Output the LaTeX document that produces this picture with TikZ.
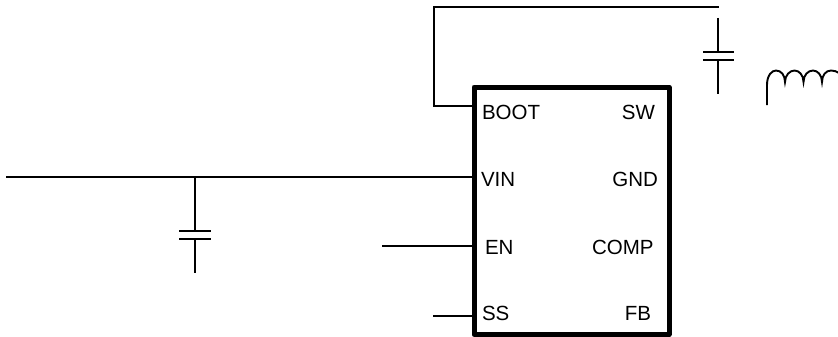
\documentclass[tikz,border=0pt]{standalone}
\usepackage{fontspec}
\setmainfont{Liberation Sans}
\tikzset{
  wire/.style={line width=1.9pt,black},
  icbox/.style={line width=5pt,black,line join=round},
  pin/.style={inner sep=0pt,outer sep=0pt,anchor=base west,font=\fontsize{20.5pt}{24pt}\selectfont},
  pinr/.style={inner sep=0pt,outer sep=0pt,anchor=base east,font=\fontsize{20.5pt}{24pt}\selectfont}
}
\begin{document}
\begin{tikzpicture}[x=1pt,y=-1pt]
\useasboundingbox (0,0) rectangle (838,337);
\clip (0,0) rectangle (838,337);
% IC
\coordinate (icnw) at (474,87);
\coordinate (icse) at (669,334.5);
\draw[icbox] (icnw) rectangle (icse);
\node[pin] (boot) at (482,119) {BOOT};
\node[pinr] (sw) at (655,119) {SW};
\node[pin] (vin) at (481,186) {VIN};
\node[pinr] (gnd) at (658,186) {GND};
\node[pin] (en) at (485,254) {EN};
\node[pinr] (comp) at (653.5,254) {COMP};
\node[pin] (ss) at (482,320) {SS};
\node[pinr] (fb) at (651,320) {FB};
% pin coordinates
\coordinate (pboot) at (474,106);
\coordinate (pvin) at (474,177);
\coordinate (pen) at (474,246);
\coordinate (pss) at (474,316);
% boot line
\coordinate (bc) at (434,7);
\coordinate (be) at (719,7);
\draw[wire] (pboot) -| (bc) -- (be);
% top capacitor
\coordinate (c1a) at (718,18);
\coordinate (c1b) at (718,52);
\coordinate (c1c) at (718,60);
\coordinate (c1d) at (718,94);
\draw[wire] (c1a) -- (c1b);
\draw[wire] (c1c) -- (c1d);
\draw[wire] (703,52) -- (734,52);
\draw[wire] (703,60) -- (734,60);
% inductor
\coordinate (la) at (767,105);
\draw[wire] (la) -- (767,85)
  .. controls (767,75) and (772,70.5) .. (776,70.5)
  .. controls (781,70.5) and (785,75) .. (785,82)
  .. controls (785,75) and (790,70.5) .. (794.5,70.5)
  .. controls (799,70.5) and (803.5,75) .. (803.5,82)
  .. controls (803.5,75) and (808,70.5) .. (813,70.5)
  .. controls (817.5,70.5) and (822,75) .. (822,82)
  .. controls (822,75) and (826,70.5) .. (831,70.5)
  .. controls (834,70.5) and (837,71.5) .. (839,73);
% input line
\coordinate (vs) at (6,177);
\coordinate (vt) at (195,177);
\draw[wire] (vs) -- (pvin);
% lower capacitor
\coordinate (c2b) at (195,231);
\coordinate (c2c) at (195,239);
\coordinate (c2d) at (195,273);
\draw[wire] (vt) -- (c2b);
\draw[wire] (c2c) -- (c2d);
\draw[wire] (179,231) -- (211,231);
\draw[wire] (179,239) -- (211,239);
% EN, SS
\coordinate (ens) at (382,246);
\coordinate (sss) at (433,316);
\draw[wire] (ens) -- (pen);
\draw[wire] (sss) -- (pss);
\end{tikzpicture}
\end{document}
